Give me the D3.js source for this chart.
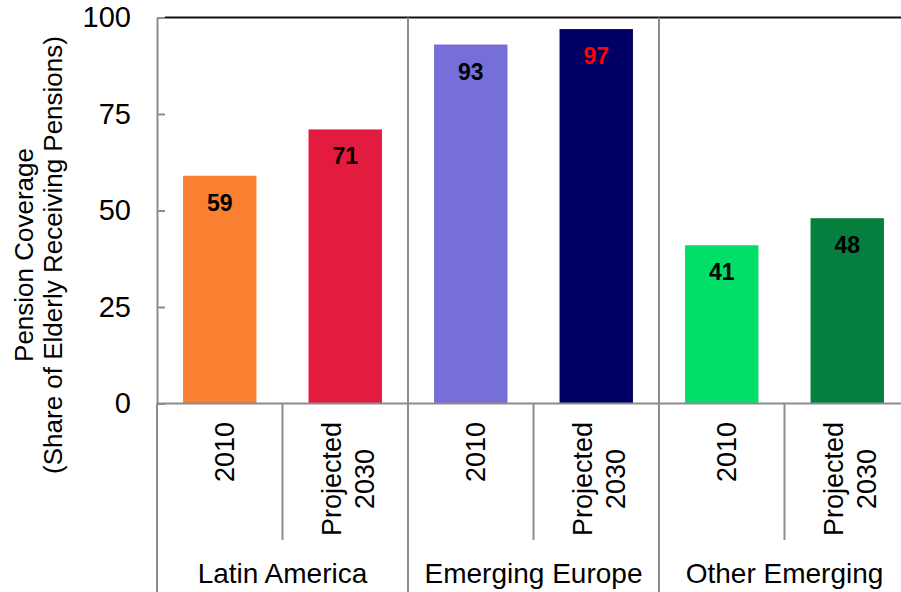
<!DOCTYPE html>
<html>
<head>
<meta charset="utf-8">
<script src="https://cdn.jsdelivr.net/npm/d3@7"></script>
<style>
  html, body { margin: 0; padding: 0; background: #fff; }
  svg { display: block; font-family: "Liberation Sans", Arial, sans-serif; }
</style>
</head>
<body>
<svg id="chart" width="901" height="592"></svg>
<script>
// Pension coverage by region, 2010 vs projected 2030
const groups = ["Latin America", "Emerging Europe", "Other Emerging"];
const periods = ["2010", "Projected\n2030"];
const coverage = [59, 71, 93, 97, 41, 48];
const barColors = ["#F98031", "#E31C3F", "#766FDA", "#000062", "#01DF69", "#047F3E"];
const labelColors = ["#000", "#000", "#000", "#FF0000", "#000", "#000"];
const yTicks = [0, 25, 50, 75, 100];
const yTitle = ["Pension Coverage", "(Share of Elderly Receiving Pensions)"];

const rows = [];
groups.forEach((g, gi) => periods.forEach((p, pi) => {
  const i = gi * periods.length + pi;
  rows.push({ key: g + "|" + p, group: g, period: p, value: coverage[i],
              color: barColors[i], labelColor: labelColors[i] });
}));

const svg = d3.select("#chart");
const plotLeft = 157, plotTop = 17.5, plotBottom = 403.5, plotRight = 910;
const axisGrey = "#8C8C8C";

const x = d3.scaleBand().domain(rows.map(d => d.key)).range([plotLeft, plotRight]);
const gx = d3.scaleBand().domain(groups).range([plotLeft, plotRight]);
const y = d3.scaleLinear().domain([0, 100]).range([plotBottom, plotTop]);
const barFrac = 0.585;

// bars
svg.append("g").selectAll("rect").data(rows).join("rect")
  .attr("x", d => x(d.key) + x.bandwidth() * (1 - barFrac) / 2)
  .attr("width", x.bandwidth() * barFrac)
  .attr("y", d => y(d.value))
  .attr("height", d => y(0) - y(d.value))
  .attr("fill", d => d.color);

// value labels inside bar tops
svg.append("g").selectAll("text").data(rows).join("text")
  .attr("x", d => x(d.key) + x.bandwidth() / 2)
  .attr("y", d => y(d.value) + 35)
  .attr("text-anchor", "middle")
  .attr("font-size", 23)
  .attr("font-weight", "bold")
  .attr("fill", d => d.labelColor)
  .text(d => d.value);

// top frame line
svg.append("line")
  .attr("x1", plotLeft + 8).attr("x2", plotRight)
  .attr("y1", y(100)).attr("y2", y(100))
  .attr("stroke", "#111").attr("stroke-width", 2);

// group separators running through plot and category area
svg.append("g").selectAll("line").data(groups.slice(1)).join("line")
  .attr("x1", d => gx(d)).attr("x2", d => gx(d))
  .attr("y1", y(100)).attr("y2", 592)
  .attr("stroke", axisGrey).attr("stroke-width", 2);

// left axis line extended down through the group label area
svg.append("line")
  .attr("x1", plotLeft).attr("x2", plotLeft)
  .attr("y1", plotBottom).attr("y2", 592)
  .attr("stroke", axisGrey).attr("stroke-width", 2);

// sub-category separators below the baseline
svg.append("g").selectAll("line").data(groups).join("line")
  .attr("x1", d => gx(d) + gx.bandwidth() / 2).attr("x2", d => gx(d) + gx.bandwidth() / 2)
  .attr("y1", plotBottom).attr("y2", 540)
  .attr("stroke", axisGrey).attr("stroke-width", 2);

// y axis
const yAxis = svg.append("g")
  .attr("transform", `translate(${plotLeft},0)`)
  .call(d3.axisLeft(y).tickValues(yTicks).tickSizeInner(-8).tickSizeOuter(0).tickPadding(26));
yAxis.select(".domain").attr("stroke", axisGrey).attr("stroke-width", 2);
yAxis.selectAll(".tick line").attr("stroke", axisGrey).attr("stroke-width", 2);
yAxis.selectAll(".tick text")
  .attr("font-size", 29).attr("fill", "#000")
  .attr("font-family", "Liberation Sans, Arial, sans-serif");

// x baseline
svg.append("line")
  .attr("x1", plotLeft).attr("x2", plotRight)
  .attr("y1", plotBottom).attr("y2", plotBottom)
  .attr("stroke", axisGrey).attr("stroke-width", 2);

// rotated period labels
const lh = 33;
rows.forEach(d => {
  const lines = d.period.split("\n");
  const cx = x(d.key) + x.bandwidth() / 2;
  const g = svg.append("g").attr("transform", `translate(${cx},422) rotate(-90)`);
  const texts = lines.map((ln, li) => g.append("text")
    .attr("font-size", 27)
    .attr("fill", "#000")
    .attr("y", 14 - (lines.length - 1) * 18.5 + li * lh)
    .text(ln));
  const w = d3.max(texts, t => t.node().getComputedTextLength());
  texts.forEach(t => t.attr("x", -w / 2).attr("text-anchor", "middle"));
});

// group labels
svg.append("g").selectAll("text").data(groups).join("text")
  .attr("x", d => gx(d) + gx.bandwidth() / 2)
  .attr("y", 583)
  .attr("text-anchor", "middle")
  .attr("font-size", 28)
  .attr("fill", "#000")
  .text(d => d);

// y axis title
const tg = svg.append("g").attr("transform", "translate(0,255) rotate(-90)");
tg.selectAll("text").data(yTitle).join("text")
  .attr("x", 0)
  .attr("y", (d, i) => 33 + i * 29)
  .attr("text-anchor", "middle")
  .attr("font-size", 26)
  .attr("fill", "#000")
  .text(d => d);
</script>
</body>
</html>
